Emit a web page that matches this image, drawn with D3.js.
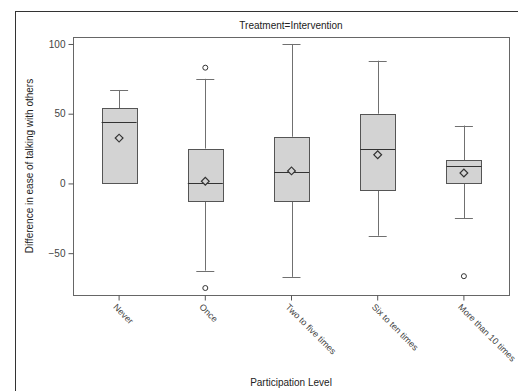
<!DOCTYPE html>
<html>
<head>
<meta charset="utf-8">
<script src="https://cdn.jsdelivr.net/npm/d3@7"></script>
<style>
  body { margin: 0; background: #fff; }
  text { font-family: "Liberation Sans", Arial, sans-serif; }
</style>
</head>
<body>
<div id="chart"></div>
<script>
const categories = ['Never', 'Once', 'Two to five times', 'Six to ten times', 'More than 10 times'];
const whiskerLow = [0, -62.5, -67, -37.5, -25];
const q1 = [0, -12.5, -12.5, -4.5, 0];
const medians = [44, 0, 8.5, 25, 12.5];
const q3 = [54, 25, 33.5, 50, 16.5];
const whiskerHigh = [67, 75, 100, 88, 41.5];
const means = [32.5, 1.5, 9, 20.5, 7.5];
const outliers = [[], [83, -75], [], [], [-66.5]];
const yTicks = [-50, 0, 50, 100];

const width = 518;
const height = 391;
const plot = { left: 73, top: 37, right: 509, bottom: 295 };

const data = categories.map((c, i) => ({
  cat: c,
  lo: whiskerLow[i],
  q1: q1[i],
  med: medians[i],
  q3: q3[i],
  hi: whiskerHigh[i],
  mean: means[i],
  out: outliers[i]
}));

const svg = d3
  .select('#chart')
  .append('svg')
  .attr('width', width)
  .attr('height', height);

// outer frame (runs off the picture on the right and bottom)
svg
  .append('rect')
  .attr('x', 15.5)
  .attr('y', 11.5)
  .attr('width', 600)
  .attr('height', 500)
  .style('fill', 'none')
  .style('stroke', '#333');

const xScale = d3
  .scaleBand()
  .domain(categories)
  .range([76, 507]);

const yScale = d3
  .scaleLinear()
  .domain([-80, 105])
  .range([plot.bottom, plot.top]);

const cx = (d) => xScale(d.cat) + xScale.bandwidth() / 2;
const boxW = 35;
const capW = 18;

svg
  .append('text')
  .attr('x', (plot.left + plot.right) / 2)
  .attr('y', 29)
  .style('text-anchor', 'middle')
  .style('font-size', '10px')
  .style('fill', '#222')
  .text('Treatment=Intervention');

// plot frame
svg
  .append('rect')
  .attr('x', plot.left + 0.5)
  .attr('y', plot.top + 0.5)
  .attr('width', plot.right - plot.left)
  .attr('height', plot.bottom - plot.top)
  .style('fill', 'none')
  .style('stroke', '#666');

const yAxis = svg
  .append('g')
  .attr('transform', `translate(${plot.left + 0.5},0)`)
  .call(d3.axisLeft(yScale).tickValues(yTicks).tickSize(5).tickPadding(3));
yAxis.select('.domain').remove();
yAxis.selectAll('line').style('stroke', '#555');
yAxis.selectAll('text').style('font-size', '10px').style('fill', '#444').style('font-family', '"Liberation Sans", Arial, sans-serif');

const xAxis = svg
  .append('g')
  .attr('transform', `translate(0,${plot.bottom + 0.5})`)
  .call(d3.axisBottom(xScale).tickSize(5));
xAxis.select('.domain').remove();
xAxis.selectAll('line').style('stroke', '#555');
xAxis
  .selectAll('text')
  .attr('x', 4)
  .attr('y', 10)
  .attr('dy', '0.35em')
  .attr('transform', 'rotate(45)')
  .style('text-anchor', 'start')
  .style('font-size', '9px')
  .style('fill', '#444')
  .style('font-family', '"Liberation Sans", Arial, sans-serif');

const boxes = svg
  .selectAll('.box')
  .data(data)
  .enter()
  .append('g')
  .attr('class', 'box');

// whiskers
boxes
  .append('line')
  .attr('x1', (d) => Math.round(cx(d)) + 0.5)
  .attr('x2', (d) => Math.round(cx(d)) + 0.5)
  .attr('y1', (d) => yScale(d.hi))
  .attr('y2', (d) => yScale(d.q3))
  .style('stroke', '#707070');
boxes
  .append('line')
  .attr('x1', (d) => Math.round(cx(d)) + 0.5)
  .attr('x2', (d) => Math.round(cx(d)) + 0.5)
  .attr('y1', (d) => yScale(d.q1))
  .attr('y2', (d) => yScale(d.lo))
  .style('stroke', '#707070');
boxes
  .selectAll('.cap')
  .data((d) => [d.hi, d.lo].map((v) => ({ v, d })).filter((e) => e.v !== e.d.q1))
  .enter()
  .append('line')
  .attr('class', 'cap')
  .attr('x1', (e) => cx(e.d) - capW / 2)
  .attr('x2', (e) => cx(e.d) + capW / 2)
  .attr('y1', (e) => Math.round(yScale(e.v)) + 0.5)
  .attr('y2', (e) => Math.round(yScale(e.v)) + 0.5)
  .style('stroke', '#707070');

boxes
  .append('rect')
  .attr('x', (d) => Math.round(cx(d) - boxW / 2) + 0.5)
  .attr('y', (d) => Math.round(yScale(d.q3)) + 0.5)
  .attr('width', boxW)
  .attr('height', (d) => Math.round(yScale(d.q1)) - Math.round(yScale(d.q3)))
  .style('fill', '#d3d3d3')
  .style('stroke', '#555');

boxes
  .append('line')
  .attr('x1', (d) => cx(d) - boxW / 2)
  .attr('x2', (d) => cx(d) + boxW / 2)
  .attr('y1', (d) => Math.round(yScale(d.med)) + 0.5)
  .attr('y2', (d) => Math.round(yScale(d.med)) + 0.5)
  .style('stroke', '#333');

// mean markers: squares turned into diamonds
boxes
  .append('path')
  .attr('d', d3.symbol(d3.symbolSquare, 30))
  .attr('transform', (d) => `translate(${cx(d)},${yScale(d.mean)}) rotate(45)`)
  .style('fill', '#d3d3d3')
  .style('stroke', '#333')
  .style('stroke-width', 1.2);

boxes
  .selectAll('.outlier')
  .data((d) => d.out.map((v) => ({ v, d })))
  .enter()
  .append('circle')
  .attr('class', 'outlier')
  .attr('cx', (e) => cx(e.d))
  .attr('cy', (e) => yScale(e.v))
  .attr('r', 2.5)
  .style('fill', '#fff')
  .style('stroke', '#333');

svg
  .append('text')
  .attr('transform', 'rotate(-90)')
  .attr('x', -166)
  .attr('y', 33)
  .style('text-anchor', 'middle')
  .style('font-size', '10px')
  .style('fill', '#222')
  .text('Difference in ease of talking with others');

svg
  .append('text')
  .attr('x', (plot.left + plot.right) / 2)
  .attr('y', 386)
  .style('text-anchor', 'middle')
  .style('font-size', '10px')
  .style('fill', '#222')
  .text('Participation Level');
</script>
</body>
</html>
